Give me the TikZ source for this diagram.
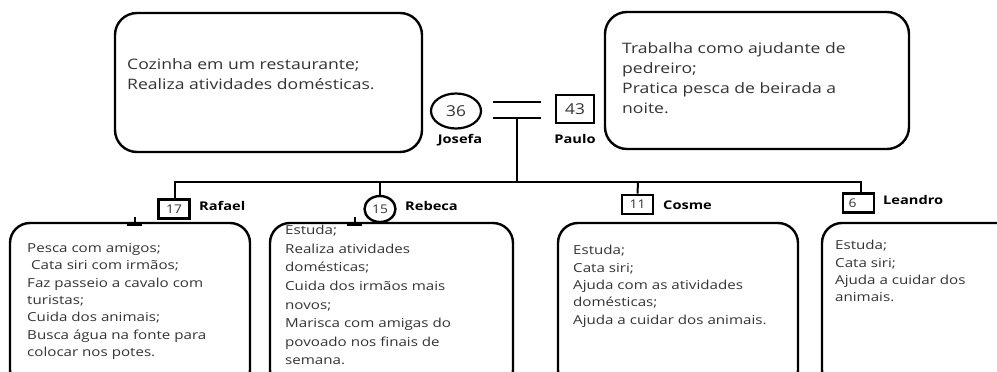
\documentclass[tikz,border=0pt]{standalone}
\usepackage{fontspec}
\setmainfont{Open Sans}[FakeStretch=1.22]
\newfontfamily\numfont{Open Sans}[FakeStretch=1.15]
\usetikzlibrary{shapes.geometric}
\definecolor{txt}{HTML}{333333}
\begin{document}
\begin{tikzpicture}[x=1pt,y=-1pt,
  infobox/.style={draw=black,line width=2.4pt,rounded corners=22pt},
  kidbox/.style={draw=black,line width=2.4pt,rounded corners=20pt},
  bigtxt/.style={anchor=north west,inner sep=0pt,align=left,text=txt,font=\fontsize{14.4}{20}\selectfont},
  smalltxt/.style={anchor=north west,inner sep=0pt,align=left,text=txt,font=\fontsize{12.4}{17.4}\selectfont},
  male/.style={draw=black,line width=2.6pt,minimum width=31pt,minimum height=19pt,inner sep=0pt,font=\numfont\fontsize{12}{14}\selectfont,text=txt},
  female/.style={draw=black,line width=2.4pt,ellipse,inner sep=0pt,font=\numfont\fontsize{12}{14}\selectfont,text=txt},
  pname/.style={inner sep=0pt,font=\bfseries\fontsize{12}{14}\selectfont},
  conn/.style={draw=black,line width=2pt}
]
\useasboundingbox (0,0) rectangle (997,372);
\clip (0,0) rectangle (997,372);
% top boxes
\draw[infobox] (115,13) rectangle (422,152);
\node[bigtxt] (tl) at (127,58) {Cozinha em um restaurante;\\Realiza atividades domésticas.};
\draw[infobox] (605,12) rectangle (909,149);
\node[bigtxt] (tr) at (622,42) {Trabalha como ajudante de\\pedreiro;\\Pratica pesca de beirada a\\noite.};
% parents
\node[draw=black,line width=2.2pt,minimum width=50pt,minimum height=35pt,inner sep=0pt,ellipse,font=\numfont\fontsize{15}{17}\selectfont,text=txt] (josefa) at (456,111) {36};
\node[pname] (jn) at (460,140) {Josefa};
\node[draw=black,line width=2.4pt,minimum width=38pt,minimum height=28pt,inner sep=0pt,font=\numfont\fontsize{15}{17}\selectfont,text=txt] (paulo) at (575,109) {43};
\node[pname] (pn) at (575,139) {Paulo};
\coordinate (m1a) at (493,102); \coordinate (m1b) at (541,102);
\coordinate (m2a) at (493,118); \coordinate (m2b) at (541,118);
\draw[conn] (m1a) -- (m1b);
\draw[conn] (m2a) -- (m2b);
\coordinate (drop) at (517,118);
\coordinate (bar) at (517,182);
\draw[conn] (drop) -- (bar);
% children
\node[male] (rafael) at (174,209) {17};
\node[pname,anchor=west] (rn) at (199,206) {Rafael};
\node[female,minimum width=31pt,minimum height=26pt] (rebeca) at (380,209) {15};
\node[pname,anchor=west] (ren) at (405,206) {Rebeca};
\node[male] (cosme) at (637.5,204.5) {11};
\node[pname,anchor=west] (cn) at (663,205) {Cosme};
\node[male] (leandro) at (858.5,203) {\hspace*{-12pt}6};
\node[pname,anchor=west] (ln) at (883,200) {Leandro};
\coordinate (bl) at (175,182); \coordinate (br) at (861,182);
\coordinate (b2) at (380,182); \coordinate (b3) at (638,182);
\draw[conn,line join=miter] (rafael.north -| bl) -- (bl) -- (br) -- (leandro.north -| br);
\draw[conn] (b2) -- (rebeca.north);
\draw[conn] (b3) -- (cosme.north);
% child boxes
\draw[kidbox] (10,223) rectangle (250,390);
\draw[kidbox] (270,223) rectangle (513,390);
\draw[kidbox] (558,223) rectangle (798,390);
\draw[kidbox] (822,223) rectangle (1020,390);
\coordinate (t1) at (135,217); \coordinate (t1b) at (135,224);
\coordinate (t2) at (355,217); \coordinate (t2b) at (355,224);
\draw[conn] (t1) -- (t1b);
\draw[conn] (t2) -- (t2b);
\draw[conn,line width=3.2pt] (127,224.5) -- (142,224.5);
\draw[conn,line width=3.2pt] (347,224.5) -- (362,224.5);
\node[smalltxt] (rt) at (27,243) {Pesca com amigos;\\ \ Cata siri com irmãos;\\Faz passeio a cavalo com\\turistas;\\Cuida dos animais;\\Busca água na fonte para\\colocar nos potes.};
\node[smalltxt,font=\fontsize{12.4}{18.6}\selectfont] (ret) at (285,225) {Estuda;\\Realiza atividades\\domésticas;\\Cuida dos irmãos mais\\novos;\\Marisca com amigas do\\povoado nos finais de\\semana.};
\node[smalltxt] (ct) at (573,245) {Estuda;\\Cata siri;\\Ajuda com as atividades\\domésticas;\\Ajuda a cuidar dos animais.};
\node[smalltxt] (lt) at (835,240) {Estuda;\\Cata siri;\\Ajuda a cuidar dos\\animais.};
\end{tikzpicture}
\end{document}
